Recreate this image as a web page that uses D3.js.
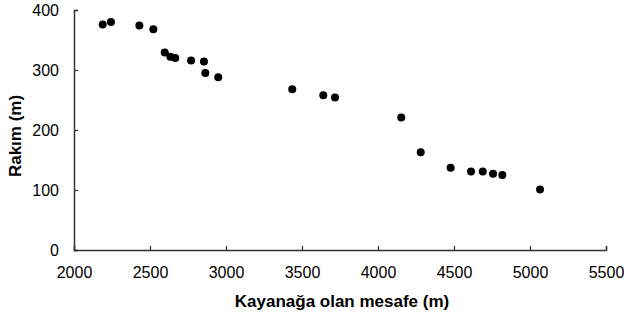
<!DOCTYPE html>
<html lang="en">
<head>
  <meta charset="UTF-8">
  <title>Rakım - mesafe</title>
  <script src="https://d3js.org/d3.v7.min.js"></script>
  <style>
    body { margin: 0; background: #fff; }
    svg text { font-family: "Liberation Sans", Arial, sans-serif; fill: #000; }
  </style>
</head>
<body>
  <svg width="624" height="320"></svg>
  <script>
    // distance to spring (m) and altitude (m)
    const distance = [2189, 2243, 2430, 2522, 2597, 2634, 2666, 2770, 2855, 2864, 2949,
                      3436, 3640, 3717, 4153, 4281, 4478, 4612, 4689, 4757, 4818, 5066];
    const altitude = [376, 380, 374, 368, 329, 322, 320, 316, 314, 295, 288,
                      268, 258, 254, 221, 163, 137, 131, 131, 127, 125, 101];
    const xTicks = [2000, 2500, 3000, 3500, 4000, 4500, 5000, 5500];
    const yTicks = [0, 100, 200, 300, 400];

    const margin = { top: 10, right: 18, bottom: 70, left: 74 };
    const width = 624 - margin.left - margin.right;
    const height = 320 - margin.top - margin.bottom;

    const svg = d3.select("svg")
      .append("g")
      .attr("transform", `translate(${margin.left},${margin.top})`);

    const x = d3.scaleLinear().domain([2000, 5500]).range([0, width]);
    const y = d3.scaleLinear().domain([0, 400]).range([height, 0]);

    const gX = svg.append("g")
      .attr("transform", `translate(0,${height})`)
      .call(d3.axisBottom(x).tickValues(xTicks).tickSize(-4).tickPadding(17).tickFormat(d3.format("d")));

    const gY = svg.append("g")
      .call(d3.axisLeft(y).tickValues(yTicks).tickSize(-4).tickPadding(15).tickFormat(d3.format("d")));

    [gX, gY].forEach(g => {
      g.select(".domain").attr("stroke", "#333").attr("stroke-width", 1.5);
      g.selectAll(".tick line").attr("stroke", "#333").attr("stroke-width", 1.2);
      g.selectAll(".tick text").attr("font-size", 16).attr("font-family", "Liberation Sans, Arial, sans-serif");
    });

    svg.selectAll(".pt")
      .data(distance.map((d, i) => [d, altitude[i]]))
      .enter().append("circle")
      .attr("class", "pt")
      .attr("cx", d => x(d[0]))
      .attr("cy", d => y(d[1]))
      .attr("r", 4)
      .attr("fill", "#000");

    svg.append("text")
      .attr("x", width / 2 + 2)
      .attr("y", height + 57)
      .attr("text-anchor", "middle")
      .attr("font-size", 17)
      .attr("font-weight", "bold")
      .text("Kayanağa olan mesafe (m)");

    svg.append("text")
      .attr("transform", `translate(${-53},${height / 2 + 6}) rotate(-90)`)
      .attr("text-anchor", "middle")
      .attr("font-size", 17)
      .attr("font-weight", "bold")
      .text("Rakım (m)");
  </script>
</body>
</html>
